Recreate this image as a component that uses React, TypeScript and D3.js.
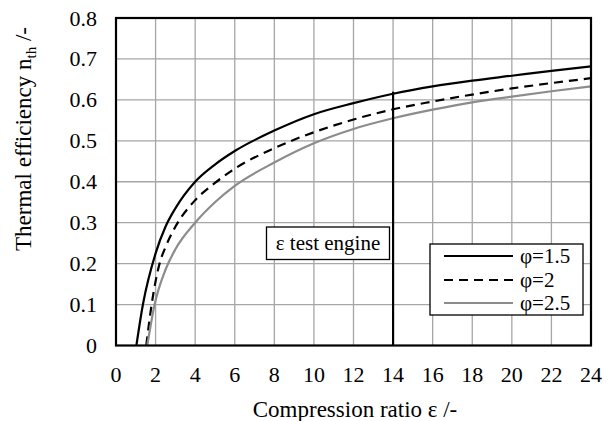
import React from 'react';
import * as d3 from 'd3';

// Axis ticks
const xTicks = [0, 2, 4, 6, 8, 10, 12, 14, 16, 18, 20, 22, 24];
const yTicks = [0, 0.1, 0.2, 0.3, 0.4, 0.5, 0.6, 0.7, 0.8];

// Thermal efficiency vs compression ratio, one series per pressure ratio φ
const seriesLabels = ['φ=1.5', 'φ=2', 'φ=2.5'];

const ratioPhi15 = [1.03, 1.36, 2.0, 2.5, 3, 4, 5, 6, 8, 10, 12, 14, 16, 18, 20, 22, 24];
const effPhi15 = [0, 0.1, 0.225, 0.29, 0.335, 0.4, 0.442, 0.475, 0.525, 0.565, 0.592, 0.615, 0.633, 0.647, 0.659, 0.671, 0.682];

const ratioPhi2 = [1.53, 1.8, 2.2, 2.5, 3, 4, 5, 6, 8, 10, 12, 14, 16, 18, 20, 22, 24];
const effPhi2 = [0, 0.1, 0.2, 0.24, 0.29, 0.355, 0.397, 0.432, 0.482, 0.521, 0.552, 0.577, 0.596, 0.613, 0.628, 0.641, 0.653];

const ratioPhi25 = [1.58, 1.95, 2.5, 3, 4, 5, 6, 8, 10, 12, 14, 16, 18, 20, 22, 24];
const effPhi25 = [0, 0.1, 0.185, 0.235, 0.3, 0.35, 0.39, 0.447, 0.494, 0.529, 0.555, 0.576, 0.594, 0.608, 0.621, 0.633];

// Compression ratio of the test engine
const testEngineRatio = 14;
const testEngineEff = 0.62;
const testEngineLabel = 'ε test engine';

const W = 612;
const H = 421;
const plot = { left: 116, right: 591, top: 18, bottom: 345.5 };
const FONT = "'Liberation Serif', 'Times New Roman', serif";

export default function App() {
  const x = d3.scaleLinear().domain([0, 24]).range([plot.left, plot.right]);
  const y = d3.scaleLinear().domain([0, 0.8]).range([plot.bottom, plot.top]);

  const line = d3
    .line<[number, number]>()
    .x((d) => x(d[0]))
    .y((d) => y(d[1]))
    .curve(d3.curveMonotoneX);

  const zip = (a: number[], b: number[]) => a.map((v, i) => [v, b[i]] as [number, number]);

  const series = [
    { label: seriesLabels[0], data: zip(ratioPhi15, effPhi15), stroke: '#000', dash: undefined },
    { label: seriesLabels[1], data: zip(ratioPhi2, effPhi2), stroke: '#000', dash: '9,6' },
    { label: seriesLabels[2], data: zip(ratioPhi25, effPhi25), stroke: '#8c8c8c', dash: undefined },
  ];

  const gridColor = '#a6a6a6';
  const legend = { x: 430, y: 244, w: 153, h: 71 };
  const legendRows = [256, 280, 303];

  return (
    <svg
      width={W}
      height={H}
      viewBox={`0 0 ${W} ${H}`}
      style={{ position: 'absolute', left: 0, top: 0, background: '#fff', fontFamily: FONT }}
    >
      {/* grid */}
      <g stroke={gridColor} strokeWidth={1.3}>
        {xTicks.slice(1, -1).map((t) => (
          <line key={`gx${t}`} x1={x(t)} x2={x(t)} y1={plot.top} y2={plot.bottom} />
        ))}
        {yTicks.slice(1, -1).map((t) => (
          <line key={`gy${t}`} x1={plot.left} x2={plot.right} y1={y(t)} y2={y(t)} />
        ))}
      </g>

      {/* curves */}
      {series.map((s) => (
        <path
          key={s.label}
          d={line(s.data) || ''}
          fill="none"
          stroke={s.stroke}
          strokeWidth={2.2}
          strokeDasharray={s.dash}
        />
      ))}

      {/* test engine marker */}
      <line
        x1={x(testEngineRatio)}
        x2={x(testEngineRatio)}
        y1={y(0)}
        y2={y(testEngineEff)}
        stroke="#000"
        strokeWidth={2.2}
      />
      <rect x={266.5} y={227} width={123} height={32.5} fill="#fff" stroke="#000" strokeWidth={1.3} />
      <text x={328} y={250} textAnchor="middle" fontSize={21}>
        {testEngineLabel}
      </text>

      {/* legend */}
      <rect x={legend.x} y={legend.y} width={legend.w} height={legend.h} fill="#fff" stroke="#000" strokeWidth={1.3} />
      {series.map((s, i) => (
        <g key={`lg${s.label}`}>
          <line
            x1={444}
            x2={513}
            y1={legendRows[i]}
            y2={legendRows[i]}
            stroke={s.stroke}
            strokeWidth={2.2}
            strokeDasharray={s.dash}
          />
          <text x={520} y={legendRows[i] + 7} fontSize={21}>
            {s.label}
          </text>
        </g>
      ))}

      {/* frame */}
      <rect
        x={plot.left}
        y={plot.top}
        width={plot.right - plot.left}
        height={plot.bottom - plot.top}
        fill="none"
        stroke="#000"
        strokeWidth={2.2}
      />

      {/* tick labels */}
      {xTicks.map((t) => (
        <text key={`tx${t}`} x={x(t)} y={382} textAnchor="middle" fontSize={22}>
          {t}
        </text>
      ))}
      {yTicks.map((t) => (
        <text key={`ty${t}`} x={97} y={y(t) + 7.5} textAnchor="end" fontSize={22}>
          {t === 0 ? '0' : d3.format('.1f')(t)}
        </text>
      ))}

      {/* axis titles */}
      <text x={355} y={417} textAnchor="middle" fontSize={23}>
        Compression ratio ε /-
      </text>
      <text transform="translate(31,139) rotate(-90)" textAnchor="middle" fontSize={23}>
        Thermal efficiency n
        <tspan fontSize={15} dy={5}>th</tspan>
        <tspan dy={-5}> /-</tspan>
      </text>
    </svg>
  );
}
